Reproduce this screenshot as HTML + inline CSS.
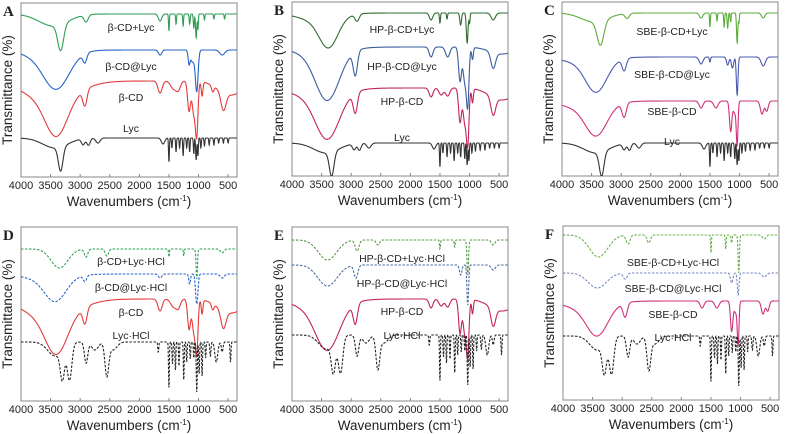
<!DOCTYPE html>
<html><head><meta charset="utf-8"><style>
body{margin:0;background:#fff}
svg{display:block}
text{font-family:"Liberation Sans",sans-serif;fill:#222}
.lt{font-family:"Liberation Serif",serif;font-weight:bold;font-size:15px}
</style></head><body>
<svg id="fig" width="786" height="434" viewBox="0 0 786 434"></svg>
<script>
// Peak lists: [wavenumber, depth(px), halfwidth(cm-1)]
const LYC=[[3330,24,55],[3420,10,300],[2950,6,40],[2860,7,40],[2700,5,50],[1600,6,40],[1500,24,10],[1450,10,10],[1380,14,10],[1320,10,10],[1260,18,10],[1200,10,10],[1150,14,10],[1080,16,10],[1040,22,12],[1010,18,10],[960,10,10],[900,8,10],[820,7,10],[740,7,10],[660,5,10],[580,5,10],[500,5,10]];
const BCD=[[3500,20,600],[3400,36,260],[2920,16,50],[1650,12,50],[1420,8,70],[1340,8,50],[1160,30,35],[1080,32,40],[1030,50,30],[940,14,20],[760,6,30],[580,18,60],[450,14,300]];
const BCD_INC=[[3400,32,300],[3550,8,500],[2920,9,45],[1650,5,40],[1160,12,22],[1100,12,50],[1030,40,32],[600,5,60]];
const BCD_MIX=[[3330,26,70],[3450,12,350],[2900,7,50],[1650,7,40],[1500,17,10],[1380,10,10],[1260,12,10],[1150,10,12],[1080,14,12],[1040,24,14],[1010,15,10],[900,6,10],[740,5,10],[560,5,10]];
const HPBCD=[[3400,42,280],[3550,10,550],[2930,20,50],[1650,9,45],[1480,7,50],[1370,8,50],[1160,34,35],[1080,34,40],[1030,52,30],[950,14,20],[600,18,55],[450,12,300]];
const HP_INC=[[3400,46,280],[3550,8,550],[2930,24,50],[1650,10,45],[1370,10,50],[1160,34,35],[1080,34,40],[1030,54,30],[950,12,20],[600,16,55],[450,7,300]];
const HP_MIX=[[3380,28,220],[3550,8,450],[2900,7,50],[1650,7,40],[1500,10,12],[1380,6,12],[1150,12,20],[1040,30,20],[1000,10,12],[600,7,50]];
const SBE=[[3420,28,250],[3600,8,500],[2950,14,50],[1650,7,45],[1400,7,50],[1150,30,28],[1040,40,20],[1080,12,40],[620,13,40],[540,10,35]];
const SBE_INC=[[3420,30,250],[3600,6,500],[2950,12,50],[1650,7,45],[1500,5,14],[1200,8,28],[1120,11,28],[1040,38,20],[600,9,50]];
const SBE_MIX=[[3350,24,80],[3450,9,320],[2900,5,50],[1650,5,40],[1500,14,10],[1380,8,10],[1260,14,11],[1200,15,13],[1150,9,10],[1040,30,15],[1010,10,10],[600,5,40]];
const LYCHCL=[[3300,30,50],[3180,36,55],[3420,14,180],[2900,21,40],[2750,8,80],[2550,32,45],[2450,8,100],[1680,10,12],[1500,46,10],[1440,22,11],[1390,28,10],[1330,24,10],[1250,38,10],[1200,20,10],[1140,17,10],[1080,16,10],[1030,50,12],[990,32,10],[940,34,10],[880,16,10],[800,14,14],[700,20,35],[600,10,20],[460,20,11]];
const BCD_HCL_INC=[[3420,22,250],[3550,6,500],[2920,6,40],[1650,4,40],[1150,10,20],[1030,30,28],[600,4,50]];
const BCD_HCL_MIX=[[3350,19,200],[2900,8,40],[2550,7,40],[1500,8,10],[1250,7,10],[1030,30,16],[600,4,40]];
const HP_HCL_MIX=[[3400,20,220],[2900,11,45],[2550,5,40],[1500,9,11],[1250,7,11],[1030,35,18],[600,5,40]];
const HP_HCL_INC=[[3400,21,230],[2920,13,45],[1150,10,28],[1030,40,20],[600,5,50]];
const SBE_HCL_MIX=[[3400,22,220],[2900,9,45],[2550,8,40],[1500,18,10],[1250,14,11],[1150,8,13],[1030,38,16],[600,4,40]];
const SBE_HCL_INC=[[3420,15,220],[2950,6,45],[1150,10,28],[1040,22,20],[600,4,50]];

const panels=[
 {id:'A',x:21,y:3,curves:[
  {lab:'β-CD+Lyc',pk:BCD_MIX,b:11,c:'#2f9e55',d:0,ly:27},
  {lab:'β-CD@Lyc',pk:BCD_INC,b:47,c:'#2563c9',d:0,ly:66},
  {lab:'β-CD',pk:BCD,b:78,c:'#e23b3b',d:0,ly:97},
  {lab:'Lyc',pk:LYC,b:135,c:'#333',d:0,ly:128}]},
 {id:'B',x:292,y:2,curves:[
  {lab:'HP-β-CD+Lyc',pk:HP_MIX,b:11,c:'#2f6b2f',d:0,ly:29},
  {lab:'HP-β-CD@Lyc',pk:HP_INC,b:45,c:'#3a5d9c',d:0,ly:66},
  {lab:'HP-β-CD',pk:HPBCD,b:86,c:'#c2235a',d:0,ly:101},
  {lab:'Lyc',pk:LYC,b:141,c:'#333',d:0,ly:137}]},
 {id:'C',x:562,y:2,curves:[
  {lab:'SBE-β-CD+Lyc',pk:SBE_MIX,b:11,c:'#5cad3a',d:0,ly:31},
  {lab:'SBE-β-CD@Lyc',pk:SBE_INC,b:55,c:'#4a58b0',d:0,ly:74},
  {lab:'SBE-β-CD',pk:SBE,b:99,c:'#d0307a',d:0,ly:111},
  {lab:'Lyc',pk:LYC,b:141,c:'#333',d:0,ly:141}]},
 {id:'D',x:21,y:227,curves:[
  {lab:'β-CD+Lyc·HCl',pk:BCD_HCL_MIX,b:22,c:'#2f9e55',d:1,ly:261},
  {lab:'β-CD@Lyc·HCl',pk:BCD_HCL_INC,b:47,c:'#2563c9',d:1,ly:287},
  {lab:'β-CD',pk:BCD,b:72,c:'#e23b3b',d:0,ly:312},
  {lab:'Lyc·HCl',pk:LYCHCL,b:115,c:'#222',d:1,ly:335}]},
 {id:'E',x:292,y:227,curves:[
  {lab:'HP-β-CD+Lyc·HCl',pk:HP_HCL_MIX,b:13,c:'#5a9a4a',d:1,ly:258},
  {lab:'HP-β-CD@Lyc·HCl',pk:HP_HCL_INC,b:38,c:'#4a6ea0',d:1,ly:283},
  {lab:'HP-β-CD',pk:HPBCD,b:72,c:'#c2235a',d:0,ly:311},
  {lab:'Lyc·HCl',pk:LYCHCL,b:108,c:'#222',d:1,ly:335}]},
 {id:'F',x:563,y:226,curves:[
  {lab:'SBE-β-CD+Lyc·HCl',pk:SBE_HCL_MIX,b:9,c:'#6ab04a',d:1,ly:262},
  {lab:'SBE-β-CD@Lyc·HCl',pk:SBE_HCL_INC,b:47,c:'#7a8ac0',d:1,ly:288},
  {lab:'SBE-β-CD',pk:SBE,b:75,c:'#d0307a',d:0,ly:314},
  {lab:'Lyc·HCl',pk:LYCHCL,b:110,c:'#222',d:1,ly:337}]}
];
const ticks=[4000,3500,3000,2500,2000,1500,1000,500];
const W=216,H=174,WMAX=4000,WMIN=350;
const NS='http://www.w3.org/2000/svg';
const svg=document.getElementById('fig');
function mk(t,a,p){const e=document.createElementNS(NS,t);for(const k in a)e.setAttribute(k,a[k]);(p||svg).appendChild(e);return e;}
panels.forEach(P=>{
  const g=mk('g',{});
  
  
  const sx=w=>P.x+(WMAX-w)/(WMAX-WMIN)*W;
  const fr=mk('rect',{x:P.x,y:P.y,width:W,height:H,fill:'none',stroke:'#888','stroke-width':1},g);
  
  
  const pl=mk('text',{x:P.x-18,y:P.y+13,class:'lt'},g);pl.textContent=P.id;
  
  
  ticks.forEach(t=>{
    const x=sx(t);
    mk('line',{x1:x,x2:x,y1:P.y+H,y2:P.y+H-3,stroke:'#888'},g);
    const tl=mk('text',{x:x,y:P.y+H+12,'font-size':11,'text-anchor':'middle'},g);tl.textContent=t;
    
    
  });
  const xt=mk('text',{x:P.x+W/2,y:P.y+H+29,'font-size':13.5,'text-anchor':'middle'},g);
  xt.innerHTML='Wavenumbers (cm<tspan dy="-5" font-size="8">-1</tspan><tspan dy="5">)</tspan>';
  
  
  const yt=mk('text',{x:0,y:0,'font-size':13.5,'text-anchor':'middle',transform:`translate(${P.x-9},${P.y+H/2}) rotate(-90)`},g);
  yt.textContent='Transmittance (%)';
  
  
  P.curves.forEach(C=>{
    let d='';
    for(let w=WMAX;w>=WMIN;w-=3){
      let v=C.b;
      for(const p of C.pk){const z=(w-p[0])/p[2];if(z>-5&&z<5)v+=p[1]*Math.exp(-z*z);}
      v=Math.min(v,H-0.5);
      d+=(d?'L':'M')+sx(w).toFixed(2)+','+(P.y+v).toFixed(2);
    }
    const pa=mk('path',{d:d,fill:'none',stroke:C.c,'stroke-width':1.1,'stroke-dasharray':C.d?'2.5,1.5':'none'},g);
    
    
    const lt=mk('text',{x:P.x+W/2+2,y:C.ly+4,'font-size':10.5,'text-anchor':'middle'},g);lt.textContent=C.lab;
    
    
  });
});
</script>
</body></html>
